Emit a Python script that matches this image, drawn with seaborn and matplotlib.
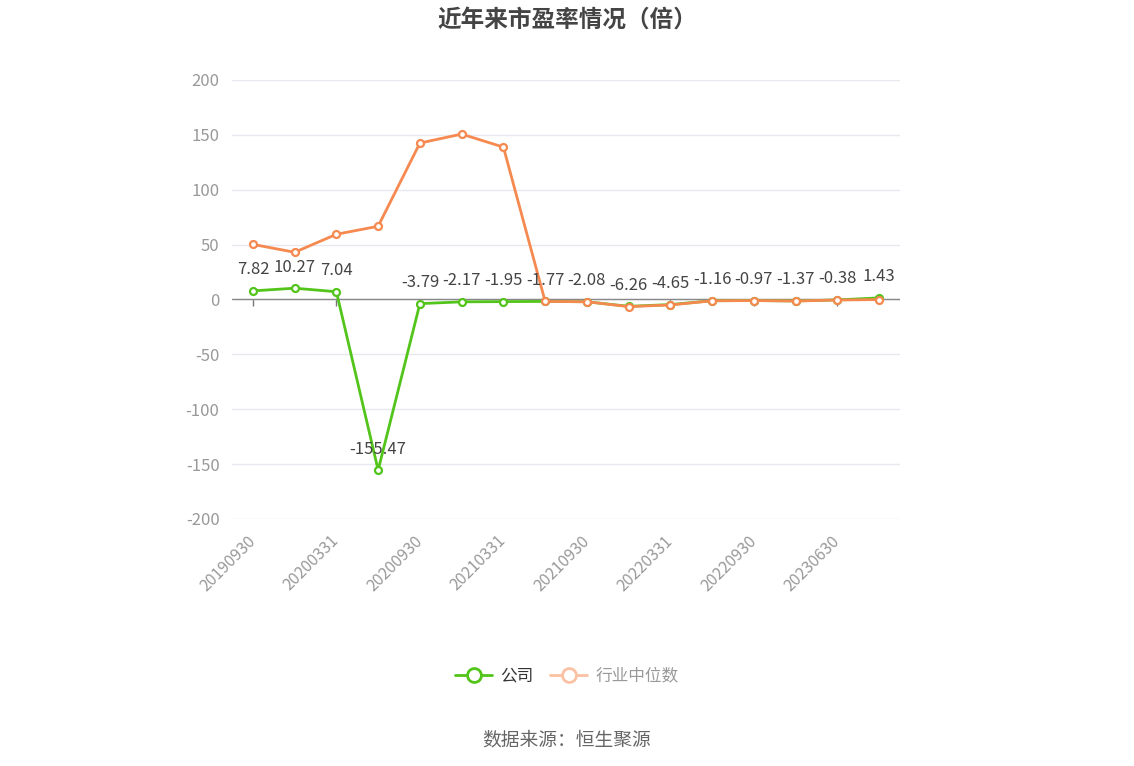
import pandas as pd
import matplotlib.pyplot as plt
import seaborn as sns
from matplotlib.lines import Line2D

# Dữ liệu
periods = ["20190930", "20191231", "20200331", "20200630", "20200930", "20201231",
           "20210331", "20210630", "20210930", "20211231", "20220331", "20220630",
           "20220930", "20221231", "20230630", "20230930"]
company = [7.82, 10.27, 7.04, -155.47, -3.79, -2.17, -1.95, -1.77, -2.08, -6.26,
           -4.65, -1.16, -0.97, -1.37, -0.38, 1.43]
industry = [50.2, 43.0, 59.4, 66.7, 142.5, 150.7, 138.8, -1.8, -2.1, -6.5,
            -5.0, -1.2, -1.0, -1.4, -0.5, -0.1]

GREEN = "#52c41a"
ORANGE = "#f5894f"
ORANGE_LIGHT = "#fbc1a3"

df = pd.DataFrame({"idx": range(len(periods)), "company": company, "industry": industry})

sns.set_theme(style="white")
plt.rcParams['font.family'] = ['Noto Sans CJK SC', 'DejaVu Sans']
plt.rcParams['axes.unicode_minus'] = False

fig = plt.figure(figsize=(11.34, 7.66), dpi=100)
ax = fig.add_axes([0.2046, 0.3225, 0.5891, 0.5731])

# đường 0
ax.axhline(0, color="#888888", linewidth=1, zorder=2)

sns.lineplot(data=df, x="idx", y="industry", ax=ax, color=ORANGE, linewidth=2,
             marker="o", markersize=5, markerfacecolor="white",
             markeredgecolor=ORANGE, markeredgewidth=1.6, zorder=4)
sns.lineplot(data=df, x="idx", y="company", ax=ax, color=GREEN, linewidth=2,
             marker="o", markersize=5, markerfacecolor="white",
             markeredgecolor=GREEN, markeredgewidth=1.6, zorder=3)

for i, v in enumerate(company):
    ax.annotate(f"{v:.2f}", (i, v), xytext=(0, 9), textcoords="offset points",
                ha="center", va="bottom", fontsize=12, color="#444444", zorder=6)

ax.set_xlim(-0.5, len(periods) - 0.5)
ax.set_ylim(-200, 200)
ax.set_yticks(range(-200, 201, 50))
ax.yaxis.grid(True, color="#e6e9f0", linewidth=1)
ax.set_axisbelow(True)
for s in ax.spines.values():
    s.set_visible(False)
ax.tick_params(axis="y", length=0, labelsize=12, labelcolor="#999999", pad=9)

ticks = list(range(0, len(periods), 2))
ax.set_xticks(ticks)
ax.set_xticklabels([periods[i] for i in ticks], rotation=45, ha="right", va="center",
                   rotation_mode="anchor", fontsize=11.5, color="#999999")
ax.tick_params(axis="x", length=0, pad=14)
ax.set_xlabel("")
ax.set_ylabel("")

# vạch chia trên trục 0
sec = ax.secondary_xaxis(0.5)
sec.set_xticks(ticks)
sec.set_xticklabels([])
sec.xaxis.set_ticks_position("bottom")
sec.tick_params(axis="x", length=5, color="#777777", width=1, direction="out")
for s in sec.spines.values():
    s.set_visible(False)

fig.text(0.5, 0.99, "近年来市盈率情况（倍）", ha="center", va="top",
         fontsize=17, fontweight="bold", color="#444444")

handles = [
    Line2D([], [], color=GREEN, linewidth=2, marker="o", markersize=10,
           markerfacecolor="white", markeredgecolor=GREEN, markeredgewidth=2),
    Line2D([], [], color=ORANGE_LIGHT, linewidth=2, marker="o", markersize=10,
           markerfacecolor="white", markeredgecolor=ORANGE_LIGHT, markeredgewidth=2),
]
leg = fig.legend(handles, ["公司", "行业中位数"], loc="center", bbox_to_anchor=(0.5, 0.1175),
                 ncol=2, frameon=False, fontsize=12, handlelength=2.2,
                 columnspacing=1.0, handletextpad=0.5)
leg.get_texts()[0].set_color("#333333")
leg.get_texts()[1].set_color("#999999")

fig.text(0.5, 0.034, "数据来源：恒生聚源", ha="center", va="center",
         fontsize=13.5, color="#666666")

plt.savefig("out.png", dpi=100)
plt.close()
